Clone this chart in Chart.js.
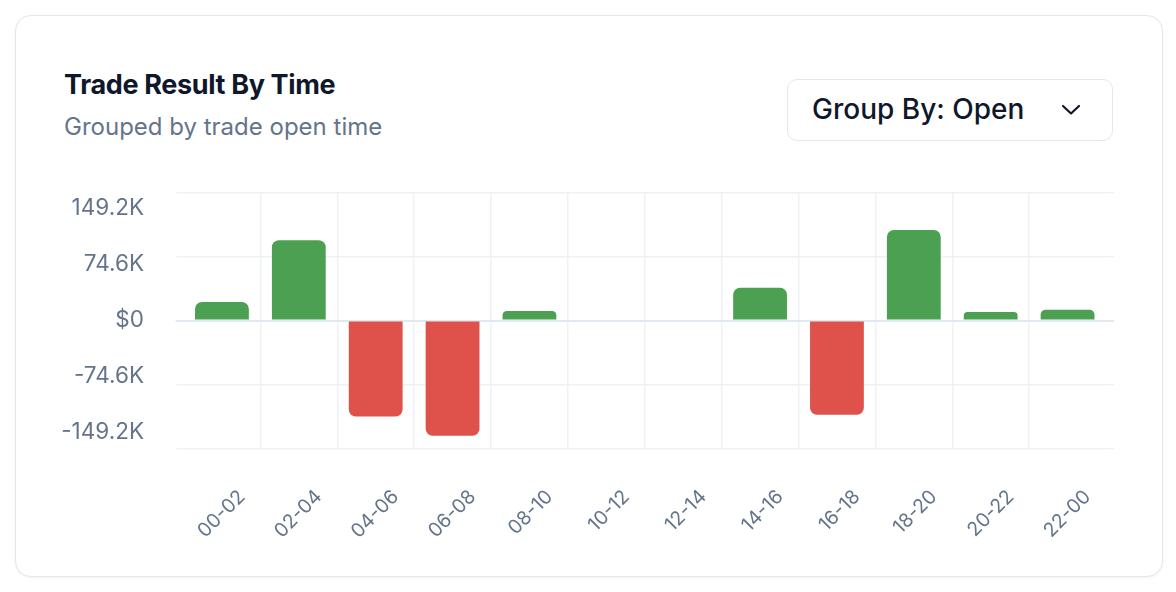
<!DOCTYPE html>
<html><head><meta charset="utf-8">
<script src="https://cdn.jsdelivr.net/npm/chart.js@4.4.1/dist/chart.umd.min.js"></script>
<style>
html,body{margin:0;padding:0;background:#fff;width:1176px;height:592px;overflow:hidden;font-family:Inter,"Noto Sans",sans-serif;}
.card{position:absolute;left:15px;top:15px;width:1148px;height:562px;border:1.5px solid #e2e8f0;border-radius:16px;box-sizing:border-box;box-shadow:0 1px 3px rgba(15,23,42,0.05);background:#fff;}
.title{position:absolute;left:64px;top:67px;font-size:27px;font-weight:700;color:#0f172a;line-height:36px;letter-spacing:-0.35px;white-space:nowrap;}
.sub{position:absolute;left:64px;top:112px;font-size:24px;color:#64748b;line-height:30px;white-space:nowrap;}
.dd{position:absolute;left:787px;top:79px;width:326px;height:62px;border:1.5px solid #e2e8f0;border-radius:10px;box-sizing:border-box;background:#fff;}
.dd span{position:absolute;left:24px;top:0;line-height:59px;font-size:28px;font-weight:500;color:#0f172a;white-space:nowrap;}
.dd svg{position:absolute;left:271px;top:23px;}
#wrap{position:absolute;left:0;top:160px;width:1176px;height:432px;}
</style></head>
<body>
<div class="card"></div>
<div class="title">Trade Result By Time</div>
<div class="sub">Grouped by trade open time</div>
<div class="dd"><span>Group By: Open</span><svg width="24" height="14" viewBox="0 0 24 14"><polyline points="4,3 12,10.5 20,3" fill="none" stroke="#0f172a" stroke-width="2.2" stroke-linecap="round" stroke-linejoin="round"/></svg></div>
<div id="wrap"><canvas id="c"></canvas></div>
<script>
const categories = ['00-02','02-04','04-06','06-08','08-10','10-12','12-14','14-16','16-18','18-20','20-22','22-00'];
const pnlValues = [21600, 93800, -112100, -134600, 11100, 0, 0, 38200, -110100, 105800, 9900, 12600];
const yTickValues = [149200, 74600, 0, -74600, -149200];
const yTickLabels = ['149.2K', '74.6K', '$0', '-74.6K', '-149.2K'];
const axisMax = 149200;
const labelSpread = 0.875;

const GREEN = '#4ba052', RED = '#de524b';
const GRID = '#eef2f6', ZERO = '#e2e8f0', TEXT = '#64748b';
const setTicks = s => { s.ticks = yTickValues.map(v => ({value: v})); };
const gridColor = ctx => (ctx.tick && ctx.tick.value === 0) ? ZERO : GRID;
const gridWidth = ctx => (ctx.tick && ctx.tick.value === 0) ? 2 : 1.5;

new Chart(document.getElementById('c'), {
  type: 'bar',
  data: {
    labels: categories,
    datasets: [{
      data: pnlValues,
      backgroundColor: pnlValues.map(v => v >= 0 ? GREEN : RED),
      borderRadius: 7,
      borderSkipped: 'start',
      categoryPercentage: 1,
      barPercentage: 0.7,
      yAxisID: 'y'
    }]
  },
  options: {
    responsive: true, maintainAspectRatio: false, animation: false,
    layout: {padding: {left: 0, right: 62, top: 32.7, bottom: 0}},
    plugins: {legend: {display: false}, tooltip: {enabled: false}},
    scales: {
      x: {
        grid: {offset: true, drawTicks: false, lineWidth: 1.5,
          color: ctx => (ctx.type !== 'tick' || ctx.index === 0) ? 'rgba(0,0,0,0)' : GRID},
        border: {display: false},
        ticks: {minRotation: 45, maxRotation: 45, autoSkip: false, color: TEXT,
          font: {family: 'Inter', size: 19.5}, padding: 37, labelOffset: 20},
        afterFit: s => { s.height = 143.7; }
      },
      y: {
        position: 'left', weight: 0, min: -axisMax, max: axisMax,
        afterBuildTicks: setTicks,
        ticks: {display: false},
        grid: {color: gridColor, lineWidth: gridWidth, drawTicks: true, tickLength: 8},
        border: {display: false}
      },
      yl: {
        position: 'left', weight: 1, min: -axisMax / labelSpread, max: axisMax / labelSpread,
        afterBuildTicks: setTicks,
        grid: {display: false, drawTicks: false},
        border: {display: false},
        ticks: {color: TEXT, font: {family: 'Inter', size: 22.5}, padding: 31.5,
          callback: v => yTickLabels[yTickValues.indexOf(v)]},
        afterFit: s => { s.width = 175.5; s.paddingTop = 0; s.paddingBottom = 0; }
      },
      yr: {
        position: 'right', min: -axisMax, max: axisMax,
        afterBuildTicks: setTicks,
        ticks: {display: false},
        grid: {drawOnChartArea: false, color: gridColor, lineWidth: gridWidth, drawTicks: true, tickLength: 8},
        border: {display: false}
      }
    }
  }
});
</script>
</body></html>
